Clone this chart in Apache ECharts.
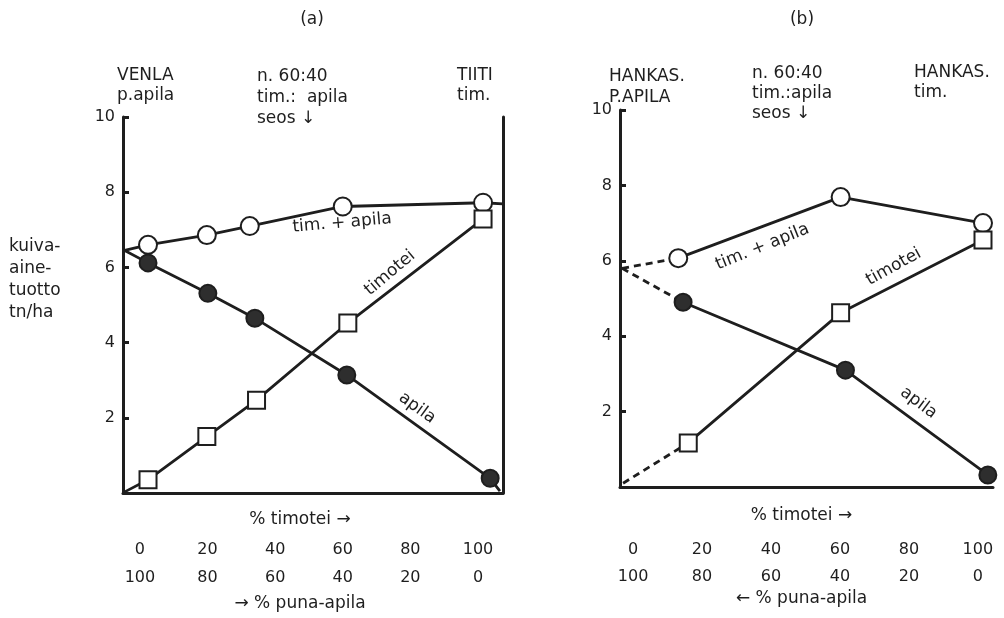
<!DOCTYPE html>
<html>
<head>
<meta charset="utf-8">
<script src="https://cdn.jsdelivr.net/npm/echarts@6/dist/echarts.min.js"></script>
<style>html,body{margin:0;padding:0;background:#fff}#c{width:1004px;height:618px}</style>
</head>
<body>
<div id="c"></div>
<script>
// ---------- data (a) ----------
const aTimApilaX = [2.4, 19.8, 32.5, 60.0, 101.5];
const aTimApilaY = [6.60, 6.86, 7.10, 7.62, 7.72];
const aTimoteiX  = [2.4, 19.8, 34.5, 61.5, 101.5];
const aTimoteiY  = [0.35, 1.50, 2.47, 4.52, 7.29];
const aApilaX    = [2.4, 20.1, 34.0, 61.2, 103.6];
const aApilaY    = [6.12, 5.31, 4.65, 3.14, 0.39];
const aMixStart  = [-4.5, 6.45];
const aTimStart  = [-4.5, 0.03];
const aMixEnd    = [107.4, 7.69];
const aApilaEnd  = [106.5, 0.05];
// ---------- data (b) ----------
const bTimApilaX = [13.1, 60.2, 101.5];
const bTimApilaY = [6.07, 7.69, 7.00];
const bTimoteiX  = [16.0, 60.2, 101.5];
const bTimoteiY  = [1.17, 4.62, 6.55];
const bApilaX    = [14.5, 61.6, 102.9];
const bApilaY    = [4.90, 3.10, 0.32];
const bMixStart  = [-3.2, 5.80];
const bTimStart  = [-2.9, 0.10];
// ---------- tick labels ----------
const timoteiTicks = [0, 20, 40, 60, 80, 100];
const apilaTicks   = [100, 80, 60, 40, 20, 0];
const yTicks = [2, 4, 6, 8, 10];

const INK = '#1e1e1e';
const FONT = '"DejaVu Sans", sans-serif';
const TXT = 17;
const NUM = 16;
const zip = (xs, ys) => xs.map((x, i) => [x, ys[i]]);
const anchor = p => ({ value: p, symbol: 'none' });

const chart = echarts.init(document.getElementById('c'), null, { renderer: 'canvas' });

function xAxes(grid, min, max, off1, off2, name1Gap, name2, name2Gap, namePad) {
  const base = { type: 'value', gridIndex: grid, min: min, max: max, splitLine: { show: false } };
  return [
    Object.assign({}, base, {
      position: 'bottom',
      axisLine: { show: true, onZero: false, lineStyle: { color: INK, width: 3 } },
      axisTick: { show: false }, axisLabel: { show: false },
      name: '% timotei \u2192', nameLocation: 'middle', nameGap: name1Gap,
      nameTextStyle: { color: INK, fontSize: TXT, fontFamily: FONT, padding: namePad }
    }),
    Object.assign({}, base, {
      position: 'bottom', offset: off1,
      axisLine: { show: false, onZero: false }, axisTick: { show: false },
      axisLabel: { show: true, customValues: timoteiTicks, color: INK, fontSize: NUM, fontFamily: FONT, margin: 8 }
    }),
    Object.assign({}, base, {
      position: 'bottom', offset: off2,
      axisLine: { show: false, onZero: false }, axisTick: { show: false },
      axisLabel: { show: true, customValues: timoteiTicks, color: INK, fontSize: NUM, fontFamily: FONT, margin: 8,
        formatter: v => String(apilaTicks[timoteiTicks.indexOf(v)]) },
      name: name2, nameLocation: 'middle', nameGap: name2Gap,
      nameTextStyle: { color: INK, fontSize: TXT, fontFamily: FONT, padding: namePad }
    })
  ];
}

function yAxisLeft(grid) {
  return {
    type: 'value', gridIndex: grid, position: 'left', min: 0, max: 10, interval: 2,
    axisLine: { show: true, onZero: false, lineStyle: { color: INK, width: 3 } },
    axisTick: { show: true, inside: true, length: 6, lineStyle: { color: INK, width: 3 } },
    axisLabel: { color: INK, fontSize: NUM, fontFamily: FONT, margin: 8,
      formatter: v => (yTicks.indexOf(v) >= 0 ? String(v) : '') },
    splitLine: { show: false }
  };
}

const lineW = 2.8;
function solid(name, xi, yi, data, symbol, size, fill) {
  return {
    type: 'line', name: name, xAxisIndex: xi, yAxisIndex: yi, data: data,
    symbol: symbol, symbolSize: size, showAllSymbol: true,
    lineStyle: { color: INK, width: lineW },
    itemStyle: { color: fill, borderColor: INK, borderWidth: 2 },
    emphasis: { disabled: true }, silent: true, z: 3
  };
}
function dashed(xi, yi, data) {
  return {
    type: 'line', xAxisIndex: xi, yAxisIndex: yi, data: data, symbol: 'none',
    lineStyle: { color: INK, width: lineW, type: [7, 5] }, silent: true, z: 2
  };
}
function labels(xi, yi, items) {
  return {
    type: 'scatter', xAxisIndex: xi, yAxisIndex: yi, symbolSize: 0, silent: true, z: 5,
    itemStyle: { opacity: 1 },
    emphasis: { disabled: true },
    data: items.map(it => ({
      value: it.at, name: it.text,
      label: { show: true, formatter: it.text, rotate: it.rot, position: 'inside', opacity: 1,
        color: INK, fontSize: TXT, fontFamily: FONT }
    }))
  };
}
function txt(x, y, s, lh, align) {
  return { type: 'text', x: x, y: y, style: { text: s, fill: INK, font: TXT + 'px ' + FONT,
    lineHeight: lh, textAlign: align || 'left', textVerticalAlign: 'top' } };
}

const option = {
  animation: false,
  backgroundColor: '#fff',
  grid: [
    { left: 123, right: 1004 - 503, top: 117, bottom: 618 - 493 },
    { left: 620, right: 1004 - 993, top: 110, bottom: 618 - 487 }
  ],
  xAxis: [].concat(
    xAxes(0, -5, 107.4, 41, 69, 18, '\u2192 % puna-apila', 33, [0, 26, 0, 0]),
    xAxes(1, -3.8, 104.4, 47, 74, 20, '\u2190 % puna-apila', 29, [0, 10, 0, 0])
  ),
  yAxis: [
    yAxisLeft(0),
    { type: 'value', gridIndex: 0, position: 'right', min: 0, max: 10,
      axisLine: { show: true, onZero: false, lineStyle: { color: INK, width: 3 } },
      axisTick: { show: false }, axisLabel: { show: false }, splitLine: { show: false } },
    yAxisLeft(1)
  ],
  series: [
    // (a)
    solid('tim. + apila', 0, 0, [anchor(aMixStart)].concat(zip(aTimApilaX, aTimApilaY), [anchor(aMixEnd)]), 'circle', 18, '#fff'),
    solid('timotei', 0, 0, [anchor(aTimStart)].concat(zip(aTimoteiX, aTimoteiY)), 'rect', 17, '#fff'),
    solid('apila', 0, 0, [anchor(aMixStart)].concat(zip(aApilaX, aApilaY), [anchor(aApilaEnd)]), 'circle', 17, '#2e2e2e'),
    labels(0, 0, [
      { text: 'tim. + apila', at: [59.8, 7.18], rot: 5 },
      { text: 'timotei', at: [74, 5.85], rot: 40 },
      { text: 'apila', at: [82, 2.26], rot: -36 }
    ]),
    // (b)
    dashed(3, 2, [bMixStart, [bTimApilaX[0], bTimApilaY[0]]]),
    dashed(3, 2, [bMixStart, [bApilaX[0], bApilaY[0]]]),
    dashed(3, 2, [bTimStart, [bTimoteiX[0], bTimoteiY[0]]]),
    solid('tim. + apila', 3, 2, zip(bTimApilaX, bTimApilaY), 'circle', 18, '#fff'),
    solid('timotei', 3, 2, zip(bTimoteiX, bTimoteiY), 'rect', 17, '#fff'),
    solid('apila', 3, 2, zip(bApilaX, bApilaY), 'circle', 17, '#2e2e2e'),
    labels(3, 2, [
      { text: 'tim. + apila', at: [37.5, 6.37], rot: 22 },
      { text: 'timotei', at: [75.6, 5.84], rot: 29 },
      { text: 'apila', at: [82.8, 2.23], rot: -37 }
    ])
  ],
  graphic: [
    txt(312, 10, '(a)', 20, 'center'),
    txt(802, 10, '(b)', 20, 'center'),
    txt(117, 66, 'VENLA\np.apila', 20),
    txt(257, 66, 'n. 60:40\ntim.:  apila\nseos \u2193', 21),
    txt(457, 66, 'TIITI\ntim.', 20),
    txt(609, 66, 'HANKAS.\nP.APILA', 21),
    txt(752, 64, 'n. 60:40\ntim.:apila\nseos \u2193', 20),
    txt(914, 63, 'HANKAS.\ntim.', 20),
    txt(9, 236, 'kuiva-\naine-\ntuotto\ntn/ha', 22)
  ]
};
chart.setOption(option);
</script>
</body>
</html>
